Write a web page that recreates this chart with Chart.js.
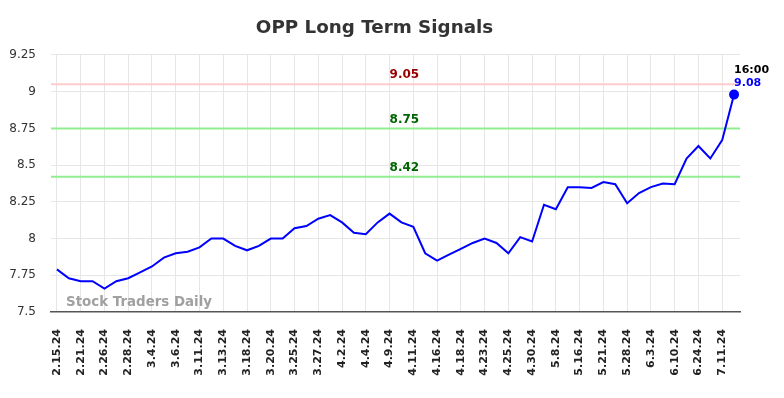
<!DOCTYPE html>
<html>
<head>
<meta charset="utf-8">
<script src="https://cdn.jsdelivr.net/npm/chart.js@4/dist/chart.umd.min.js"></script>
<style>
html,body{margin:0;padding:0;background:#fff;}
#wrap{width:784px;height:398px;position:relative;}
</style>
</head>
<body>
<div id="wrap"><canvas id="c" width="784" height="398"></canvas></div>
<script>
const categories = [
  "2.15.24","2.20.24","2.21.24","2.23.24","2.26.24","2.27.24","2.28.24","3.1.24",
  "3.4.24","3.5.24","3.6.24","3.8.24","3.11.24","3.12.24","3.13.24","3.15.24",
  "3.18.24","3.19.24","3.20.24","3.22.24","3.25.24","3.26.24","3.27.24","4.1.24",
  "4.2.24","4.3.24","4.4.24","4.8.24","4.9.24","4.10.24","4.11.24","4.15.24",
  "4.16.24","4.17.24","4.18.24","4.22.24","4.23.24","4.24.24","4.25.24","4.29.24",
  "4.30.24","5.3.24","5.8.24","5.13.24","5.16.24","5.20.24","5.21.24","5.24.24",
  "5.28.24","5.31.24","6.3.24","6.6.24","6.10.24","6.18.24","6.24.24","7.2.24",
  "7.11.24","7.12.24"
];
const prices = [
  7.79,7.73,7.71,7.71,7.66,7.71,7.73,7.77,
  7.81,7.87,7.90,7.91,7.94,8.00,8.00,7.95,
  7.92,7.95,8.00,8.00,8.07,8.085,8.135,8.16,
  8.11,8.04,8.03,8.11,8.17,8.11,8.08,7.90,
  7.85,7.89,7.93,7.97,8.00,7.97,7.90,8.01,
  7.98,8.23,8.20,8.35,8.35,8.345,8.385,8.37,
  8.24,8.31,8.35,8.375,8.37,8.545,8.63,8.545,
  8.67,8.98
];
const levels = [9.05, 8.75, 8.42];
const levelLabels = ["9.05", "8.75", "8.42"];
const levelLineColors = ["#ffcccc", "#90ee90", "#90ee90"];
const levelTextColors = ["#990000", "#006400", "#006400"];
const yTicks = [7.5, 7.75, 8, 8.25, 8.5, 8.75, 9, 9.25];
const lastTime = "16:00";
const lastLabel = "9.08";
const titleText = "OPP Long Term Signals";
const watermark = "Stock Traders Daily";

Chart.defaults.font.family = "'DejaVu Sans', sans-serif";

const overlay = {
  id: 'overlay',
  beforeDatasetsDraw(chart) {
    const {ctx, chartArea, scales} = chart;
    ctx.save();
    levels.forEach((v, i) => {
      const y = scales.y.getPixelForValue(v);
      ctx.strokeStyle = levelLineColors[i];
      ctx.lineWidth = 2;
      ctx.beginPath();
      ctx.moveTo(chartArea.left, y);
      ctx.lineTo(chartArea.right, y);
      ctx.stroke();
    });
    ctx.font = "bold 13.4px 'DejaVu Sans'";
    ctx.fillStyle = "rgba(150,150,150,0.9)";
    ctx.textAlign = "left";
    ctx.textBaseline = "middle";
    ctx.fillText(watermark, chartArea.left + 15, chartArea.bottom - 9);
    ctx.restore();
  },
  afterDatasetsDraw(chart) {
    const {ctx, scales} = chart;
    ctx.save();
    const mid = Math.floor((categories.length - 1) / 2);
    const xl = scales.x.getPixelForValue(mid);
    ctx.font = "bold 12px 'DejaVu Sans'";
    ctx.textAlign = "left";
    ctx.textBaseline = "bottom";
    levels.forEach((v, i) => {
      const y = scales.y.getPixelForValue(v);
      ctx.fillStyle = levelTextColors[i];
      ctx.fillText(levelLabels[i], xl, y - 3);
    });
    const li = prices.length - 1;
    const px = scales.x.getPixelForValue(li);
    const py = scales.y.getPixelForValue(prices[li]);
    ctx.font = "bold 11px 'DejaVu Sans'";
    ctx.fillStyle = "#000";
    ctx.fillText(lastTime, px, py - 19);
    ctx.fillStyle = "#0000ff";
    ctx.fillText(lastLabel, px, py - 6);
    ctx.restore();
  }
};

new Chart(document.getElementById('c'), {
  type: 'line',
  data: {
    labels: categories,
    datasets: [{
      data: prices,
      borderColor: '#0000ff',
      backgroundColor: '#0000ff',
      borderWidth: 2,
      tension: 0,
      fill: false,
      pointRadius: (c) => c.dataIndex === prices.length - 1 ? 4 : 0,
      pointHoverRadius: 0
    }]
  },
  options: {
    responsive: false,
    animation: false,
    layout: { padding: { left: 9, right: 44, top: 7, bottom: 0 } },
    plugins: {
      legend: { display: false },
      tooltip: { enabled: false },
      title: {
        display: true,
        text: titleText,
        color: '#333',
        font: { size: 18.3, weight: 'bold' },
        padding: { top: 10, bottom: 16 }
      }
    },
    scales: {
      x: {
        offset: true,
        afterFit: (s) => { s.height = 86; s.paddingLeft = 0; s.paddingRight = 0; },
        grid: { offset: false, color: '#e6e6e6', drawTicks: false },
        border: { display: true, color: '#555', width: 1.5 },
        ticks: {
          autoSkip: false,
          minRotation: 90,
          maxRotation: 90,
          padding: 17,
          color: '#222',
          font: { size: 11, weight: 'bold' },
          callback: function(v, i) { return i % 2 === 0 ? categories[i] : null; }
        }
      },
      y: {
        min: 7.5,
        max: 9.25,
        afterBuildTicks: (s) => { s.ticks = yTicks.map(v => ({value: v})); },
        afterFit: (s) => { s.width = 42; s.paddingTop = 0; s.paddingBottom = 0; },
        grid: { color: '#e6e6e6', drawTicks: false },
        border: { display: false },
        ticks: {
          padding: 15,
          color: '#333',
          font: { size: 12 },
          callback: (v) => String(v)
        }
      }
    }
  },
  plugins: [overlay]
});
</script>
</body>
</html>
